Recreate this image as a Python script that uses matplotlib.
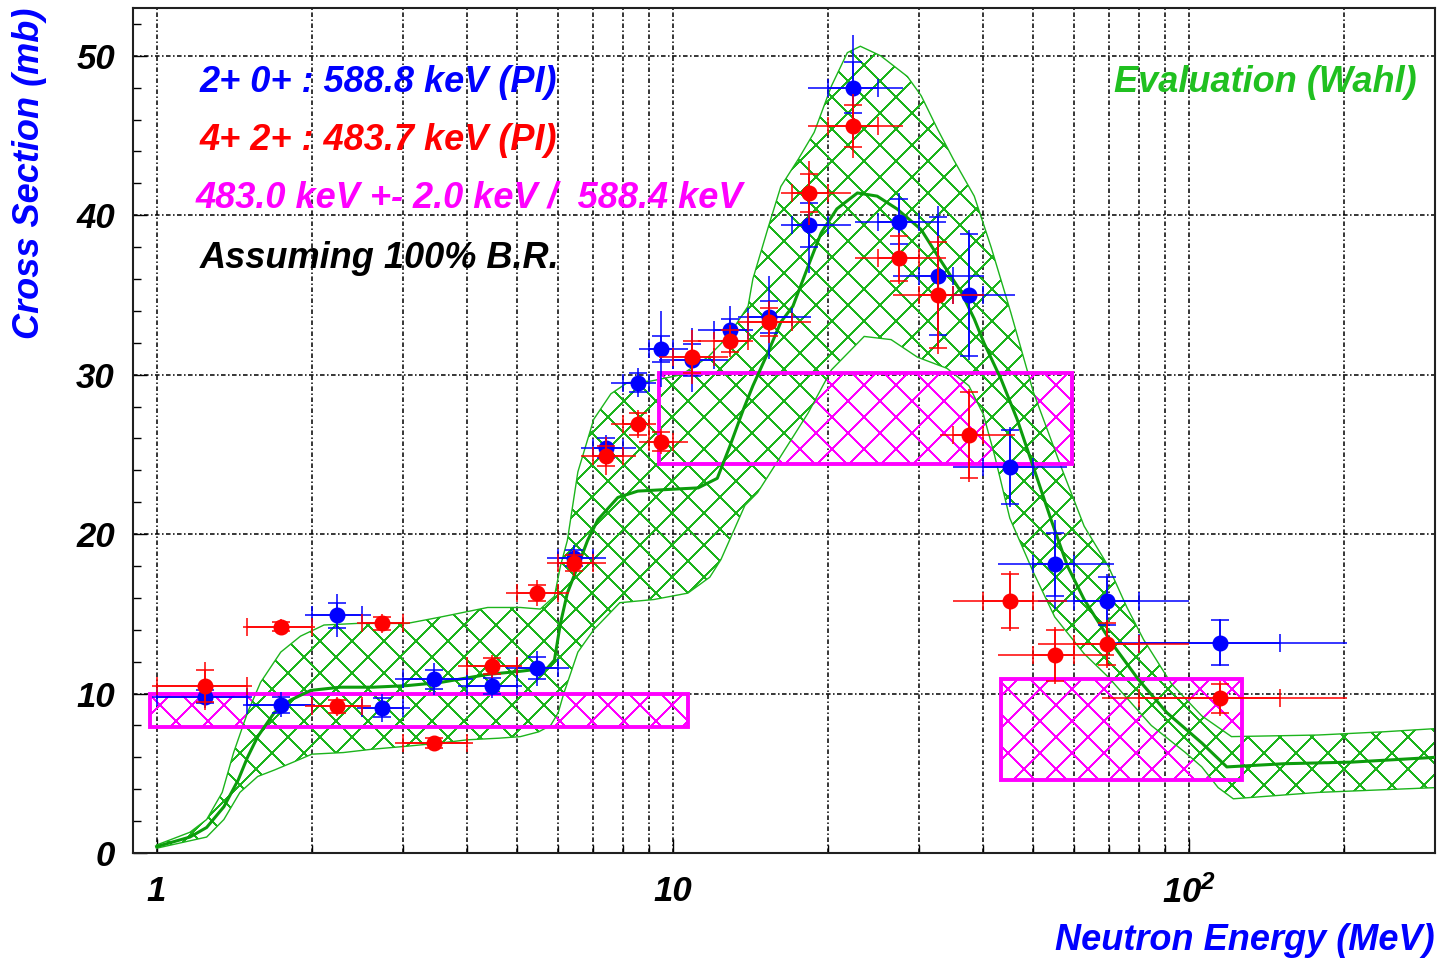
import numpy as np
import matplotlib
matplotlib.use("Agg")
import matplotlib.pyplot as plt
from matplotlib.patches import Polygon, Rectangle
from matplotlib.collections import LineCollection
from matplotlib.transforms import IdentityTransform

plt.rcParams['font.family'] = ['Liberation Sans', 'DejaVu Sans']
plt.rcParams['font.weight'] = 'bold'
plt.rcParams['font.style'] = 'italic'
plt.rcParams['axes.labelweight'] = 'bold'

# neutron energy bins (MeV) shared by both gamma lines
energy = [1.24, 1.74, 2.24, 2.73, 3.44, 4.46, 5.47, 6.45, 7.41, 8.55, 9.5, 10.9,
          12.9, 15.4, 18.4, 22.4, 27.4, 32.6, 37.5, 45.0, 55.0, 69.5, 115.0]
e_lo = [0.98, 1.47, 1.94, 2.44, 2.9, 3.83, 4.76, 5.72, 6.63, 7.6, 8.6, 9.4,
        11.2, 13.4, 16.2, 18.3, 22.6, 26.7, 33.0, 35.0, 42.7, 51.0, 68.0]
e_hi = [1.53, 2.03, 2.6, 3.1, 4.1, 5.1, 6.3, 7.41, 8.5, 9.3, 10.7, 12.8,
        14.3, 18.5, 22.2, 27.9, 33.9, 40.1, 46.0, 58.0, 71.5, 100.0, 203.0]
cap_lo = [1.0, 1.5, 2.0, 2.5, 3.0, 4.0, 5.0, 6.0, 7.0, 8.0, 9.0, 10.0,
          12.0, 14.0, 17.0, 20.0, 25.0, 30.0, 35.0, 40.0, 50.0, 60.0, 80.0]
cap_hi = [1.5, 2.0, 2.5, 3.0, 4.0, 5.0, 6.0, 7.0, 8.0, 9.0, 10.0, 12.0,
          14.0, 17.0, 20.0, 25.0, 30.0, 35.0, 40.0, 50.0, 60.0, 80.0, 150.0]

# 2+ -> 0+ 588.8 keV
blue_y = [9.8, 9.3, 14.9, 9.1, 10.9, 10.5, 11.6, 18.5, 25.4, 29.5, 31.6, 30.9,
          32.8, 33.6, 39.4, 48.0, 39.6, 36.2, 35.0, 24.2, 18.1, 15.8, 13.2]
blue_stat = [0.4, 0.5, 0.8, 0.6, 0.6, 0.5, 0.7, 0.5, 0.6, 0.6, 0.8, 1.0,
             0.7, 1.0, 1.4, 1.6, 1.4, 3.7, 3.8, 2.3, 2.0, 1.5, 1.4]
blue_tot = [0.7, 0.8, 1.35, 0.9, 1.0, 0.8, 1.1, 0.8, 0.8, 0.9, 2.4, 2.0,
            1.5, 2.6, 3.0, 3.3, 1.8, 4.4, 4.1, 2.5, 2.8, 1.7, 1.5]

# 4+ -> 2+ 483.7 keV
red_y = [10.5, 14.2, 9.2, 14.4, 6.9, 11.7, 16.3, 18.2, 24.9, 26.9, 25.8, 31.1,
         32.1, 33.3, 41.4, 45.6, 37.3, 35.0, 26.2, 15.8, 12.4, 13.1, 9.7]
red_stat = [1.0, 0.3, 0.4, 0.4, 0.3, 0.5, 0.5, 0.5, 0.6, 0.7, 0.6, 1.0,
            0.7, 0.9, 1.2, 1.3, 1.4, 3.3, 2.7, 1.7, 1.6, 1.3, 0.9]
red_tot = [1.5, 0.5, 0.6, 0.6, 0.4, 0.7, 0.8, 0.8, 1.2, 0.9, 0.8, 1.7,
           1.0, 1.3, 2.0, 2.0, 1.6, 3.7, 2.9, 1.9, 1.8, 1.5, 1.1]

# 483.0 +- 2.0 / 588.4 keV boxes
box_e_lo = [0.97, 9.39, 43.3]
box_e_hi = [10.7, 59.3, 127.0]
box_y_lo = [7.9, 24.4, 4.6]
box_y_hi = [10.0, 30.1, 10.9]

# Wahl evaluation: upper / lower edge of the error band and central curve
upper_e = [1.0, 1.16, 1.25, 1.34, 1.41, 1.5, 1.59, 1.74, 1.9, 2.11, 2.45, 3.06,
           3.55, 4.38, 5.07, 5.54, 5.9, 6.06, 6.25, 6.55, 7.03, 7.59, 8.17, 9.07,
           10.4, 11.7, 12.8, 14.0, 14.3, 15.3, 16.2, 17.5, 18.8, 20.3, 21.8, 23.1,
           25.3, 28.5, 30.3, 32.6, 35.0, 38.4, 41.4, 45.2, 50.0, 56.6, 62.7, 69.8,
           75.9, 81.7, 92.6, 106.0, 121.0, 178.0, 238.0, 300.0]
upper_y = [0.5, 1.3, 2.1, 3.8, 6.3, 8.8, 10.7, 12.6, 13.6, 14.3, 14.4, 14.4,
           14.8, 15.4, 15.4, 15.3, 16.1, 18.0, 19.6, 23.9, 27.2, 28.8, 29.5, 29.6,
           30.0, 31.1, 32.4, 34.3, 36.0, 39.2, 41.8, 43.5, 45.2, 48.1, 50.2, 50.6,
           50.0, 48.7, 47.5, 45.4, 43.5, 41.2, 38.0, 33.9, 28.9, 24.2, 20.5, 18.0,
           15.4, 13.4, 10.6, 8.6, 7.3, 7.4, 7.6, 7.8]
lower_e = [1.0, 1.25, 1.35, 1.45, 1.57, 1.69, 1.84, 2.0, 2.3, 2.6, 3.06, 3.55,
           4.0, 4.6, 5.07, 5.5, 5.8, 6.0, 6.15, 6.55, 7.03, 7.9, 9.2, 10.7,
           11.8, 12.4, 13.8, 14.6, 15.7, 18.3, 20.3, 23.5, 26.5, 29.8, 34.0, 37.5,
           40.0, 42.0, 45.0, 50.0, 55.0, 62.7, 70.0, 78.4, 84.6, 98.5, 106.0, 114.0,
           122.0, 178.0, 300.0]
lower_y = [0.3, 1.0, 2.1, 3.8, 4.8, 5.2, 5.7, 6.2, 6.3, 6.5, 6.7, 6.9,
           7.1, 7.2, 7.3, 7.6, 8.0, 8.8, 10.0, 12.6, 14.0, 15.7, 15.9, 16.3,
           17.3, 18.4, 21.8, 22.6, 24.2, 27.6, 30.3, 32.4, 32.2, 31.1, 30.4, 29.3,
           27.5, 25.0, 21.0, 17.6, 14.8, 12.5, 11.0, 9.2, 8.0, 6.3, 5.4, 4.1,
           3.4, 3.8, 4.1]
central_e = [1.0, 1.16, 1.25, 1.35, 1.44, 1.5, 1.57, 1.69, 1.82, 1.99, 2.27, 2.63,
             3.06, 3.55, 4.38, 5.07, 5.72, 5.9, 6.06, 6.25, 6.55, 6.84, 7.16, 7.83,
             8.56, 9.77, 11.2, 12.2, 12.9, 13.7, 14.3, 15.3, 16.2, 17.1, 18.5, 19.4,
             20.8, 22.8, 24.9, 27.2, 30.3, 33.0, 36.2, 38.4, 40.1, 43.3, 46.5, 50.0,
             54.1, 58.2, 62.7, 70.8, 79.8, 90.7, 106.0, 118.5, 153.0, 207.0, 300.0]
central_y = [0.4, 1.0, 1.6, 2.9, 4.6, 6.0, 7.3, 8.8, 9.6, 10.2, 10.4, 10.4,
             10.5, 10.7, 11.2, 11.4, 11.6, 12.1, 14.4, 16.3, 18.0, 19.6, 20.9, 22.3,
             22.7, 22.8, 22.9, 23.5, 25.5, 27.8, 29.3, 31.4, 33.3, 34.3, 37.2, 38.9,
             40.4, 41.4, 41.2, 40.4, 39.1, 37.2, 35.2, 33.5, 32.0, 29.7, 27.2, 24.2,
             20.9, 18.0, 15.9, 13.2, 10.9, 8.8, 6.9, 5.4, 5.6, 5.7, 6.0]

BLUE = '#0000ff'
RED = '#ff0000'
MAGENTA = '#ff00ff'
GREEN = '#1cb41c'
DKGREEN = '#0c9c0c'
HATCH_STEP = 32  # pixels between hatch lines


def hatch_segments(ax, step):
    # diagonal lattice in display pixels, anchored to the figure origin so
    # every hatched region shares the same pattern
    bb = ax.get_window_extent()
    x0, y0, x1, y1 = bb.x0, bb.y0, bb.x1, bb.y1
    segs = []
    for c in np.arange(np.floor((x0 - y1) / step) * step, x1 - y0 + step, step):
        segs.append([(c + y0, y0), (c + y1, y1)])
    for c in np.arange(np.floor((x0 + y0) / step) * step, x1 + y1 + step, step):
        segs.append([(c - y0, y0), (c - y1, y1)])
    return segs


def crosshatch(ax, patch, color, lw, zorder):
    lc = LineCollection(hatch_segments(ax, HATCH_STEP), colors=color,
                        linewidths=lw, transform=IdentityTransform(),
                        antialiaseds=False, zorder=zorder)
    ax.add_collection(lc, autolim=False)
    lc.set_clip_path(patch)


def draw_points(ax, y, stat, tot, color, z):
    e = np.array(energy)
    ax.errorbar(e, y, xerr=[e - np.array(e_lo), np.array(e_hi) - e], yerr=tot,
                fmt='none', ecolor=color, elinewidth=1.1, capsize=0, zorder=z)
    ax.errorbar(e, y, xerr=[e - np.array(cap_lo), np.array(cap_hi) - e], yerr=stat,
                fmt='o', color=color, ms=10.5, elinewidth=1.1, capsize=6.5,
                capthick=1.1, zorder=z + 0.1)


fig = plt.figure(figsize=(14.44, 9.61), dpi=100)
ax = fig.add_axes([133 / 1444, 108 / 961, 1302 / 1444, 845 / 961])
ax.set_xscale('log')
ax.set_xlim(0.9, 300)
ax.set_ylim(0, 53)

# magenta boxes, hatched first so the green lattice lies on top
for xl, xh, yl, yh in zip(box_e_lo, box_e_hi, box_y_lo, box_y_hi):
    r = Rectangle((xl, yl), xh - xl, yh - yl, facecolor='none', edgecolor=MAGENTA,
                  linewidth=2.8, zorder=2.6)
    ax.add_patch(r)
    crosshatch(ax, r, MAGENTA, 1.0, 2.0)

# evaluation band
verts = list(zip(upper_e, upper_y)) + list(zip(lower_e[::-1], lower_y[::-1]))
band = Polygon(verts, closed=True, facecolor='none', edgecolor=GREEN,
               linewidth=1.0, zorder=2.3)
ax.add_patch(band)
crosshatch(ax, band, GREEN, 1.0, 2.2)
ax.plot(central_e, central_y, color=DKGREEN, lw=2.2, zorder=2.8)

draw_points(ax, blue_y, blue_stat, blue_tot, BLUE, 5)
draw_points(ax, red_y, red_stat, red_tot, RED, 6)

# axes, ticks, grid
ax.set_xticks([1, 10, 100], labels=['1', '10', r'$\mathregular{10^{2}}$'])
ax.set_xticks([2, 3, 4, 5, 6, 7, 8, 9, 20, 30, 40, 50, 60, 70, 80, 90, 200], minor=True)
ax.xaxis.set_minor_formatter(plt.NullFormatter())
ax.set_yticks([0, 10, 20, 30, 40, 50])
ax.set_yticks(np.arange(0, 53, 2), minor=True)
ax.tick_params(which='both', direction='in', top=False, right=False,
               width=1.0, color='black')
ax.tick_params(which='major', length=10)
ax.tick_params(which='minor', length=6)
ax.tick_params(axis='x', which='major', labelsize=25, pad=16)
ax.tick_params(axis='y', which='major', labelsize=25, pad=13)
grid_style = dict(color='black', linestyle=(0, (3, 1.6, 1, 1.6)), linewidth=1.1)
ax.grid(True, which='both', axis='x', **grid_style)
ax.grid(True, which='major', axis='y', **grid_style)
for s in ax.spines.values():
    s.set_linewidth(1.5)
    s.set_color('#202020')

ax.set_xlabel('Neutron Energy (MeV)', color=BLUE, fontsize=26, loc='right')
ax.xaxis.set_label_coords(1.0, -0.083)
ax.set_ylabel('Cross Section (mb)', color=BLUE, fontsize=26, loc='top')
ax.yaxis.set_label_coords(-0.066, 1.0)

# legend text
fig.text(200 / 1444, 1 - 82 / 961, '2+ 0+ : 588.8 keV (PI)', color=BLUE,
         fontsize=26, va='center', ha='left')
fig.text(200 / 1444, 1 - 141 / 961, '4+ 2+ : 483.7 keV (PI)', color=RED,
         fontsize=26, va='center', ha='left')
fig.text(196 / 1444, 1 - 198 / 961, '483.0 keV +- 2.0 keV /  588.4 keV', color=MAGENTA,
         fontsize=26, va='center', ha='left')
fig.text(200 / 1444, 1 - 258 / 961, 'Assuming 100% B.R.', color='black',
         fontsize=26, va='center', ha='left')
fig.text(1417 / 1444, 1 - 82 / 961, 'Evaluation (Wahl)', color='#20c020',
         fontsize=26, va='center', ha='right')

fig.savefig('out.png', dpi=100)
